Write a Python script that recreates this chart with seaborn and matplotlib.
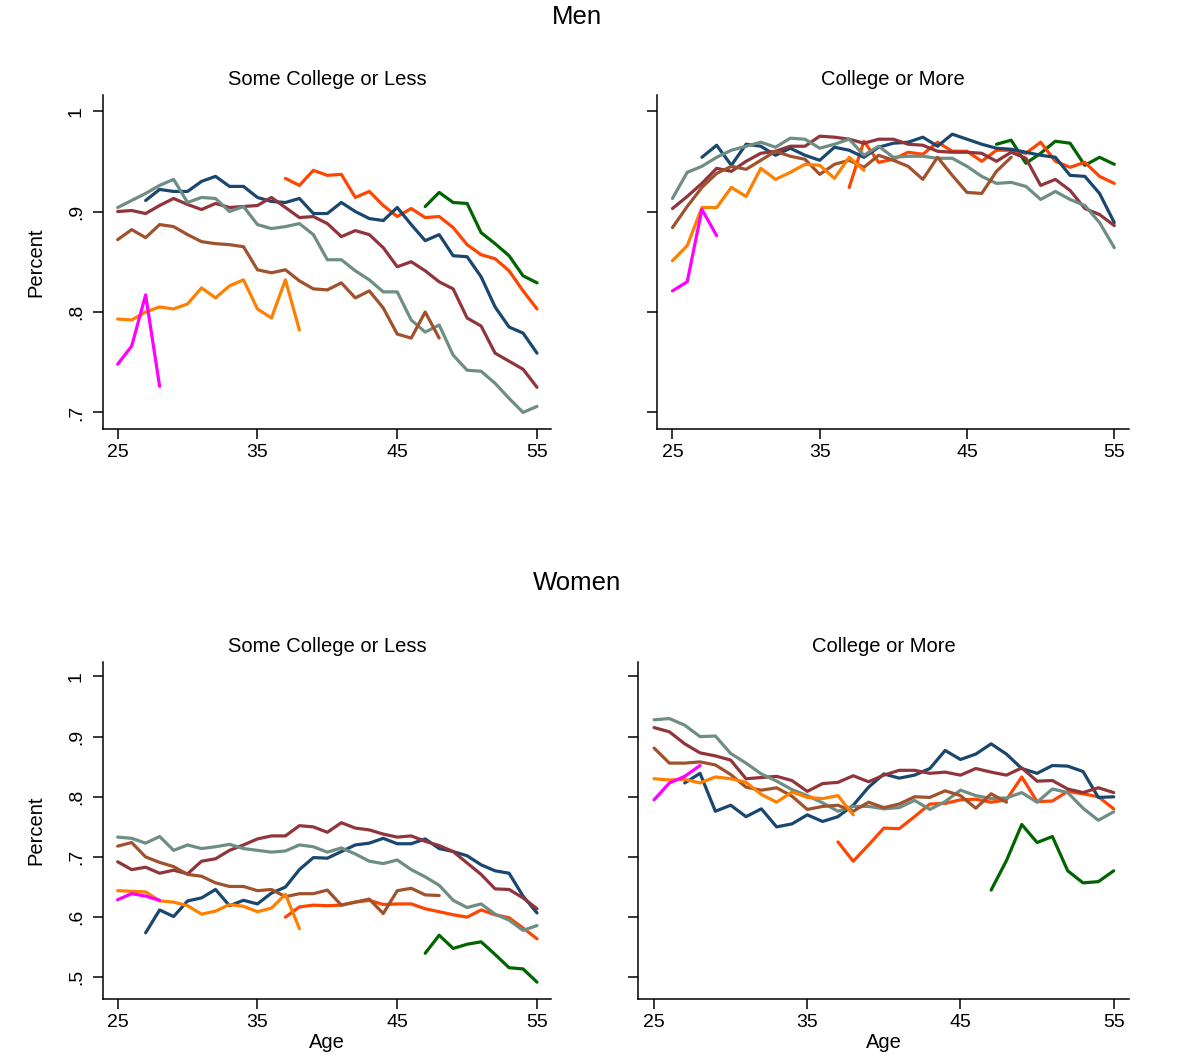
import numpy as np
import pandas as pd
import matplotlib
matplotlib.use("Agg")
import matplotlib.pyplot as plt
import seaborn as sns

# ---- Cohort colours and the first age at which each cohort is observed ----
COHORTS = ["dkgreen", "orangered", "navy", "maroon", "teal", "sienna", "orange", "magenta"]
COLORS = {
    "dkgreen": "#006400",
    "orangered": "#FF4500",
    "navy": "#1A476F",
    "maroon": "#90353B",
    "teal": "#6E8E84",
    "sienna": "#A0522D",
    "orange": "#FF8000",
    "magenta": "#FF00FF",
}
START_AGE = {"dkgreen": 47, "orangered": 37, "navy": 27, "maroon": 25,
             "teal": 25, "sienna": 25, "orange": 25, "magenta": 25}

# ---- Men, some college or less ----
men_lo_magenta = [0.748, 0.766, 0.817, 0.726]
men_lo_orange = [0.793, 0.792, 0.800, 0.805, 0.803, 0.808, 0.824, 0.814, 0.826, 0.832,
                 0.803, 0.794, 0.832, 0.782]
men_lo_orangered = [0.933, 0.926, 0.941, 0.936, 0.937, 0.914, 0.920, 0.906, 0.895, 0.903,
                    0.894, 0.895, 0.884, 0.867, 0.857, 0.853, 0.841, 0.821, 0.803]
men_lo_sienna = [0.872, 0.882, 0.874, 0.887, 0.885, 0.877, 0.870, 0.868, 0.867, 0.865,
                 0.842, 0.839, 0.842, 0.831, 0.823, 0.822, 0.829, 0.814, 0.821, 0.804,
                 0.778, 0.774, 0.800, 0.774]
men_lo_maroon = [0.900, 0.901, 0.898, 0.906, 0.913, 0.907, 0.902, 0.908, 0.904, 0.905,
                 0.906, 0.914, 0.904, 0.894, 0.895, 0.888, 0.875, 0.881, 0.877, 0.864,
                 0.845, 0.850, 0.841, 0.830, 0.823, 0.794, 0.786, 0.759, 0.751, 0.743, 0.725]
men_lo_navy = [0.911, 0.922, 0.920, 0.920, 0.930, 0.935, 0.925, 0.925,
               0.914, 0.910, 0.909, 0.913, 0.898, 0.898, 0.909, 0.900, 0.893, 0.891,
               0.904, 0.887, 0.871, 0.877, 0.856, 0.855, 0.835, 0.805, 0.785, 0.779, 0.759]
men_lo_teal = [0.904, 0.911, 0.918, 0.926, 0.932, 0.909, 0.914, 0.913, 0.900, 0.905,
               0.887, 0.883, 0.885, 0.888, 0.877, 0.852, 0.852, 0.841, 0.832, 0.820,
               0.820, 0.792, 0.780, 0.787, 0.757, 0.742, 0.741, 0.729, 0.714, 0.700, 0.706]
men_lo_dkgreen = [0.905, 0.919, 0.909, 0.908, 0.879, 0.868, 0.856, 0.836, 0.829]

# ---- Men, college or more ----
men_hi_magenta = [0.821, 0.830, 0.902, 0.876]
men_hi_orange = [0.851, 0.866, 0.904, 0.904, 0.924, 0.915, 0.943, 0.932, 0.939, 0.947,
                 0.946, 0.933, 0.954, 0.941]
men_hi_orangered = [0.924, 0.970, 0.949, 0.952, 0.959, 0.957, 0.969, 0.960, 0.960, 0.950,
                    0.961, 0.961, 0.958, 0.969, 0.950, 0.944, 0.949, 0.935, 0.928]
men_hi_sienna = [0.884, 0.905, 0.924, 0.938, 0.945, 0.942, 0.951, 0.960, 0.955, 0.952,
                 0.937, 0.947, 0.951, 0.944, 0.956, 0.951, 0.945, 0.932, 0.954, 0.936,
                 0.919, 0.918, 0.940, 0.954]
men_hi_maroon = [0.903, 0.915, 0.928, 0.943, 0.940, 0.950, 0.958, 0.960, 0.965, 0.965,
                 0.975, 0.974, 0.972, 0.968, 0.972, 0.972, 0.967, 0.966, 0.960, 0.959,
                 0.959, 0.958, 0.950, 0.959, 0.953, 0.926, 0.932, 0.921, 0.903, 0.897, 0.886]
men_hi_navy = [0.954, 0.966, 0.946, 0.967, 0.965, 0.956, 0.963, 0.956,
               0.951, 0.964, 0.961, 0.954, 0.964, 0.968, 0.969, 0.974, 0.965, 0.977,
               0.972, 0.967, 0.963, 0.962, 0.959, 0.956, 0.954, 0.936, 0.935, 0.918, 0.889]
men_hi_teal = [0.913, 0.939, 0.945, 0.954, 0.961, 0.965, 0.969, 0.964, 0.973, 0.972,
               0.963, 0.967, 0.972, 0.956, 0.965, 0.954, 0.955, 0.955, 0.953, 0.953,
               0.945, 0.935, 0.928, 0.929, 0.925, 0.912, 0.920, 0.912, 0.906, 0.889, 0.864]
men_hi_dkgreen = [0.967, 0.971, 0.948, 0.958, 0.970, 0.968, 0.946, 0.954, 0.947]

# ---- Women, some college or less ----
wom_lo_magenta = [0.629, 0.639, 0.635, 0.628]
wom_lo_orange = [0.644, 0.643, 0.642, 0.627, 0.625, 0.619, 0.605, 0.610, 0.621, 0.618,
                 0.609, 0.615, 0.638, 0.581]
wom_lo_orangered = [0.600, 0.617, 0.620, 0.619, 0.620, 0.625, 0.628, 0.621, 0.622, 0.622,
                    0.614, 0.609, 0.604, 0.600, 0.612, 0.604, 0.599, 0.582, 0.564]
wom_lo_sienna = [0.718, 0.724, 0.700, 0.691, 0.684, 0.671, 0.668, 0.657, 0.651, 0.651,
                 0.644, 0.646, 0.634, 0.639, 0.639, 0.645, 0.620, 0.625, 0.630, 0.606,
                 0.644, 0.648, 0.637, 0.636]
wom_lo_maroon = [0.692, 0.679, 0.683, 0.673, 0.678, 0.672, 0.693, 0.697, 0.711, 0.720,
                 0.730, 0.735, 0.735, 0.752, 0.750, 0.741, 0.757, 0.748, 0.745, 0.738,
                 0.733, 0.735, 0.726, 0.719, 0.709, 0.690, 0.671, 0.647, 0.646, 0.632, 0.614]
wom_lo_navy = [0.574, 0.612, 0.601, 0.627, 0.632, 0.646, 0.619, 0.628,
               0.622, 0.640, 0.650, 0.679, 0.699, 0.698, 0.709, 0.720, 0.723, 0.731,
               0.722, 0.722, 0.730, 0.714, 0.709, 0.702, 0.687, 0.677, 0.673, 0.635, 0.607]
wom_lo_teal = [0.733, 0.731, 0.723, 0.734, 0.711, 0.720, 0.714, 0.717, 0.721, 0.714,
               0.711, 0.708, 0.710, 0.720, 0.717, 0.708, 0.715, 0.705, 0.693, 0.689,
               0.695, 0.679, 0.667, 0.653, 0.628, 0.616, 0.622, 0.605, 0.595, 0.578, 0.586]
wom_lo_dkgreen = [0.540, 0.570, 0.548, 0.555, 0.559, 0.538, 0.516, 0.514, 0.492]

# ---- Women, college or more ----
wom_hi_magenta = [0.795, 0.823, 0.834, 0.852]
wom_hi_orange = [0.830, 0.828, 0.829, 0.823, 0.833, 0.830, 0.824, 0.804, 0.791, 0.808,
                 0.799, 0.797, 0.802, 0.770]
wom_hi_orangered = [0.725, 0.693, 0.720, 0.748, 0.747, 0.767, 0.788, 0.789, 0.795, 0.796,
                    0.791, 0.795, 0.833, 0.792, 0.793, 0.809, 0.805, 0.800, 0.780]
wom_hi_sienna = [0.881, 0.856, 0.856, 0.858, 0.853, 0.837, 0.816, 0.811, 0.815, 0.801,
                 0.779, 0.784, 0.786, 0.776, 0.791, 0.782, 0.788, 0.800, 0.799, 0.810,
                 0.802, 0.781, 0.805, 0.791]
wom_hi_maroon = [0.915, 0.908, 0.888, 0.873, 0.868, 0.861, 0.830, 0.832, 0.834, 0.827,
                 0.809, 0.822, 0.824, 0.835, 0.825, 0.836, 0.844, 0.844, 0.839, 0.841,
                 0.836, 0.847, 0.841, 0.836, 0.848, 0.826, 0.827, 0.813, 0.807, 0.815, 0.807]
wom_hi_navy = [0.823, 0.839, 0.776, 0.786, 0.767, 0.780, 0.750, 0.755,
               0.770, 0.759, 0.767, 0.786, 0.816, 0.838, 0.831, 0.836, 0.847, 0.877,
               0.862, 0.871, 0.888, 0.871, 0.847, 0.839, 0.852, 0.851, 0.842, 0.799, 0.800]
wom_hi_teal = [0.928, 0.930, 0.919, 0.900, 0.901, 0.872, 0.856, 0.838, 0.826, 0.812,
               0.802, 0.790, 0.776, 0.784, 0.784, 0.780, 0.782, 0.794, 0.779, 0.792,
               0.811, 0.802, 0.797, 0.798, 0.807, 0.791, 0.813, 0.807, 0.781, 0.761, 0.775]
wom_hi_dkgreen = [0.645, 0.694, 0.754, 0.724, 0.734, 0.677, 0.657, 0.659, 0.677]

X_TICKS = [25, 35, 45, 55]
MEN_Y_TICKS = [1.0, 0.9, 0.8, 0.7]
MEN_Y_LABELS = ["1", ".9", ".8", ".7"]
WOM_Y_TICKS = [1.0, 0.9, 0.8, 0.7, 0.6, 0.5]
WOM_Y_LABELS = ["1", ".9", ".8", ".7", ".6", ".5"]


def panel_frame(prefix):
    rows = []
    for c in COHORTS:
        vals = globals()[f"{prefix}_{c}"]
        for i, v in enumerate(vals):
            rows.append({"age": START_AGE[c] + i, "pct": v, "cohort": c})
    return pd.DataFrame(rows)


sns.set_style("ticks")
plt.rcParams["font.family"] = ["Liberation Sans", "DejaVu Sans"]
plt.rcParams.update({
    "text.color": "black",
    "axes.labelcolor": "black",
    "axes.titlecolor": "black",
    "xtick.color": "black",
    "ytick.color": "black",
    "xtick.labelcolor": "black",
    "ytick.labelcolor": "black",
})

W, H = 1179, 1058
fig = plt.figure(figsize=(W / 100, H / 100), dpi=100)


def px_axes(left, right, top, bottom):
    return fig.add_axes([left / W, 1 - bottom / H, (right - left) / W, (bottom - top) / H])


panels = [
    ("men_lo", px_axes(103, 551, 95, 429), "Some College or Less", (0.6835, 1.016),
     MEN_Y_TICKS, MEN_Y_LABELS, True, ""),
    ("men_hi", px_axes(657, 1129, 95, 429), "College or More", (0.6835, 1.016),
     MEN_Y_TICKS, MEN_Y_LABELS, False, ""),
    ("wom_lo", px_axes(103, 551, 662, 999), "Some College or Less", (0.464, 1.024),
     WOM_Y_TICKS, WOM_Y_LABELS, True, "Age"),
    ("wom_hi", px_axes(638, 1129, 662, 999), "College or More", (0.464, 1.024),
     WOM_Y_TICKS, WOM_Y_LABELS, False, "Age"),
]

for prefix, ax, title, ylim, yt, ytl, show_ylab, xlab in panels:
    df = panel_frame(prefix)
    sns.lineplot(data=df, x="age", y="pct", hue="cohort", hue_order=COHORTS,
                 palette=COLORS, estimator=None, linewidth=2.3, legend=False, ax=ax)
    ax.set_xlim(23.95, 56.0)
    ax.set_ylim(*ylim)
    ax.set_xticks(X_TICKS)
    ax.set_xticklabels([str(t) for t in X_TICKS])
    ax.set_yticks(yt)
    for s in ["top", "right"]:
        ax.spines[s].set_visible(False)
    for s in ["left", "bottom"]:
        ax.spines[s].set_color("black")
        ax.spines[s].set_linewidth(1.1)
    ax.tick_params(axis="both", direction="out", length=7, width=1.1, colors="black",
                   labelsize=14)
    ax.tick_params(axis="x", pad=4)
    if show_ylab:
        ax.set_yticklabels(ytl, rotation=90, va="center")
        ax.tick_params(axis="y", pad=6)
        ax.set_ylabel("Percent", fontsize=14.5, color="black")
        ax.yaxis.set_label_coords(-0.128, 0.5)
    else:
        ax.set_yticklabels([])
        ax.set_ylabel("")
    ax.set_xlabel(xlab, fontsize=14.5, labelpad=1, color="black")
    ax.set_title(title, fontsize=14.5, pad=7, color="black")

fig.text(577 / W, 1 - 17 / H, "Men", ha="center", va="center", fontsize=18.5, color="black")
fig.text(577 / W, 1 - 583 / H, "Women", ha="center", va="center", fontsize=18.5, color="black")

fig.savefig("out.png", dpi=100, facecolor="white")
